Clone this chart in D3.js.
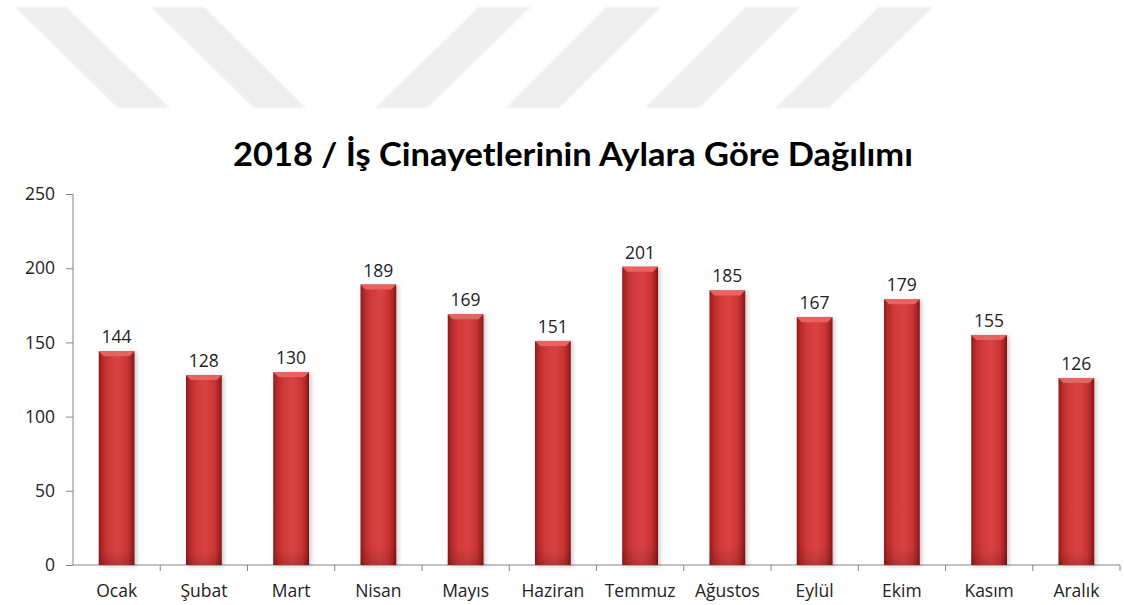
<!DOCTYPE html>
<html><head><meta charset="utf-8">
<script src="https://cdn.jsdelivr.net/npm/d3@7"></script>
<style>body{margin:0;background:#fff;}svg{display:block;}</style>
</head><body>
<svg id="c" width="1124" height="605"></svg>
<script>
const months = ["Ocak","Şubat","Mart","Nisan","Mayıs","Haziran","Temmuz","Ağustos","Eylül","Ekim","Kasım","Aralık"];
const values = [144,128,130,189,169,151,201,185,167,179,155,126];
const yTicks = [0,50,100,150,200,250];
const title = "2018 / İş Cinayetlerinin Aylara Göre Dağılımı";
// decorative watermark stripes: [topLeftX, topRightX, bottomLeftX, bottomRightX]
const stripes = [[15,66,118,170],[151,204,254,306],[479,531,375,427],[607,661,506,559],[746,800,645,699],[879,933,775,829]];

const svg = d3.select("#c");
const m = {left:73, right:1120, top:194, bottom:565};

const defs = svg.append("defs");
const g1 = defs.append("linearGradient").attr("id","barg").attr("x1","0").attr("x2","1").attr("y1","0").attr("y2","0");
[[0,"#8c1c1c"],[0.1,"#b52a2a"],[0.3,"#d13a3a"],[0.55,"#da4343"],[0.8,"#c93434"],[0.92,"#a82424"],[1,"#7e1616"]]
  .forEach(([o,c])=>g1.append("stop").attr("offset",o).attr("stop-color",c));
const g2 = defs.append("linearGradient").attr("id","barv").attr("x1","0").attr("x2","0").attr("y1","0").attr("y2","1");
[[0,"#000",0],[0.93,"#000",0],[1,"#000",0.15]].forEach(([o,c,a])=>g2.append("stop").attr("offset",o).attr("stop-color",c).attr("stop-opacity",a));
const blur = defs.append("filter").attr("id","blur").attr("x","-10%").attr("y","-10%").attr("width","120%").attr("height","120%");
blur.append("feGaussianBlur").attr("stdDeviation",1.2);
const sh = defs.append("filter").attr("id","sh").attr("x","-30%").attr("y","-10%").attr("width","160%").attr("height","120%");
sh.append("feDropShadow").attr("dx",2).attr("dy",1).attr("stdDeviation",2).attr("flood-color","#000").attr("flood-opacity",0.22);

// watermark
svg.append("g").selectAll("path").data(stripes).join("path")
  .attr("d",d=>`M${d[0]},7L${d[1]},7L${d[3]},108L${d[2]},108Z`)
  .attr("fill","#eeeeee").attr("filter","url(#blur)");

// title
svg.append("text").attr("x",(233+913)/2).attr("y",166).attr("text-anchor","middle")
  .attr("font-family","Lato, 'Open Sans', sans-serif").attr("font-weight","bold").attr("font-size",33)
  .attr("fill","#000").attr("textLength",680).attr("lengthAdjust","spacingAndGlyphs").text(title);

const x = d3.scaleBand().domain(months).range([m.left,m.right]).paddingInner(0.59).paddingOuter(0.295);
const y = d3.scaleLinear().domain([0,250]).range([m.bottom,m.top]);
const FS = 17.5;

// axes
const yAxis = svg.append("g").attr("transform",`translate(${m.left},0)`)
  .call(d3.axisLeft(y).tickValues(yTicks).tickSize(7).tickPadding(11));
yAxis.select(".domain").attr("stroke","#868686").attr("d",`M-0,${m.top}V${m.bottom}`);
yAxis.selectAll(".tick line").attr("stroke","#868686");
yAxis.selectAll(".tick text").attr("font-family","'Open Sans', sans-serif").attr("font-size",FS).attr("fill","#222");

const xb = d3.scaleLinear().domain([0,12]).range([m.left,m.right]);
const xAxisG = svg.append("g").attr("transform",`translate(0,${m.bottom})`);
xAxisG.append("line").attr("x1",m.left).attr("x2",m.right).attr("stroke","#868686");
xAxisG.selectAll("line.tk").data(d3.range(1,13)).join("line").attr("class","tk")
  .attr("x1",d=>xb(d)).attr("x2",d=>xb(d)).attr("y1",0).attr("y2",6).attr("stroke","#868686");
xAxisG.selectAll("text").data(months).join("text")
  .attr("x",d=>x(d)+x.bandwidth()/2).attr("y",32).attr("text-anchor","middle")
  .attr("font-family","'Open Sans', sans-serif").attr("font-size",FS).attr("fill","#222").text(d=>d);

// bars
const bars = svg.append("g").selectAll("g").data(months.map((mm,i)=>({m:mm,v:values[i]}))).join("g");
bars.append("rect").attr("x",d=>x(d.m)).attr("y",d=>y(d.v)).attr("width",x.bandwidth())
  .attr("height",d=>y(0)-y(d.v)).attr("fill","url(#barg)").attr("filter","url(#sh)");
bars.append("rect").attr("x",d=>x(d.m)).attr("y",d=>y(d.v)).attr("width",x.bandwidth())
  .attr("height",d=>y(0)-y(d.v)).attr("fill","url(#barv)");
bars.append("path").attr("d",d=>{const x0=x(d.m),w=x.bandwidth(),y0=y(d.v);
  return `M${x0},${y0}L${x0+w},${y0}L${x0+w-5},${y0+5}L${x0+5},${y0+5}Z`;}).attr("fill","#e86261");
bars.append("text").attr("x",d=>x(d.m)+x.bandwidth()/2).attr("y",d=>y(d.v)-8)
  .attr("text-anchor","middle").attr("font-family","'Open Sans', sans-serif").attr("font-size",FS)
  .attr("fill","#222").text(d=>d.v);
</script>
</body></html>
